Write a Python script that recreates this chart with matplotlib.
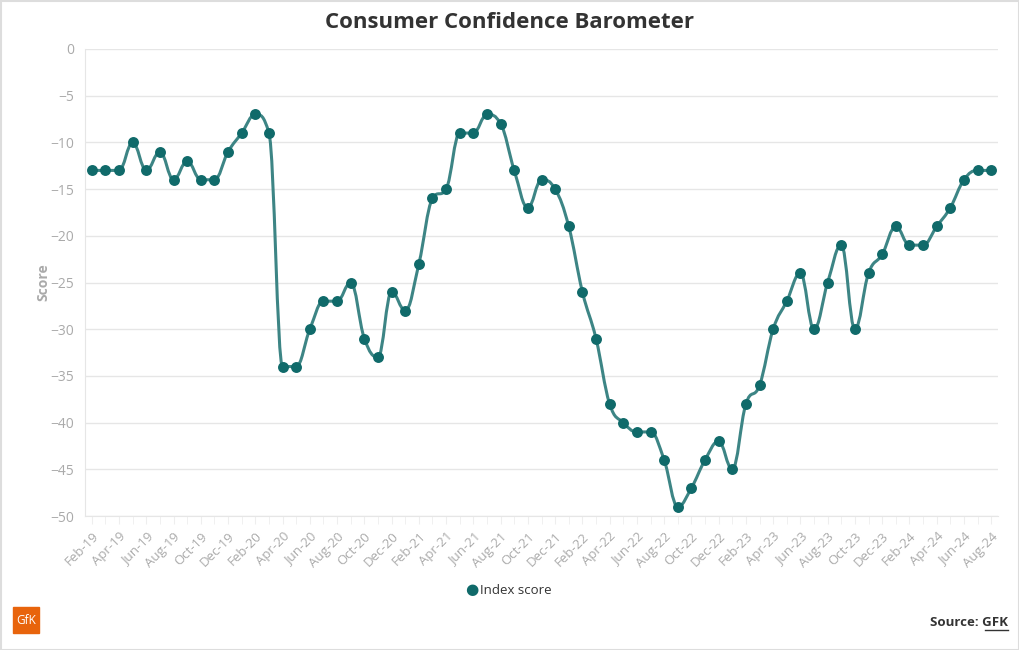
import numpy as np
import matplotlib.pyplot as plt
from matplotlib.path import Path
from matplotlib.patches import PathPatch, Rectangle

months = ['Jan', 'Feb', 'Mar', 'Apr', 'May', 'Jun', 'Jul', 'Aug', 'Sep', 'Oct', 'Nov', 'Dec']
labels = []
for yr in range(19, 25):
    for m in months:
        labels.append(f"{m}-{yr}")
labels = labels[1:labels.index('Aug-24') + 1]

scores = [-13, -13, -13, -10, -13, -11, -14, -12, -14, -14, -11,
          -9, -7, -9, -34, -34, -30, -27, -27, -25, -31, -33, -26,
          -28, -23, -16, -15, -9, -9, -7, -8, -13, -17, -14, -15,
          -19, -26, -31, -38, -40, -41, -41, -44, -49, -47, -44, -42,
          -45, -38, -36, -30, -27, -24, -30, -25, -21, -30, -24, -22,
          -19, -21, -21, -19, -17, -14, -13, -13]

line_col = '#3d8585'
dot_col = '#106a6a'
grey = '#aaaaaa'


def spline_path(xs, ys, smoothing=1.5):
    # highcharts style spline, control points per point
    n = len(xs)
    lc = [None] * n
    rc = [None] * n
    for i in range(1, n - 1):
        x, y = xs[i], ys[i]
        px, py = xs[i - 1], ys[i - 1]
        nx, ny = xs[i + 1], ys[i + 1]
        d = smoothing + 1
        lx = (smoothing * x + px) / d
        ly = (smoothing * y + py) / d
        rx = (smoothing * x + nx) / d
        ry = (smoothing * y + ny) / d
        if rx != lx:
            corr = ((ry - ly) * (rx - x)) / (rx - lx) + y - ry
            ly += corr
            ry += corr
        if ly > py and ly > y:
            ly = max(py, y)
            ry = 2 * y - ly
        elif ly < py and ly < y:
            ly = min(py, y)
            ry = 2 * y - ly
        if ry > ny and ry > y:
            ry = max(ny, y)
            ly = 2 * y - ry
        elif ry < ny and ry < y:
            ry = min(ny, y)
            ly = 2 * y - ry
        lc[i] = (lx, ly)
        rc[i] = (rx, ry)
    verts = [(xs[0], ys[0])]
    codes = [Path.MOVETO]
    for i in range(1, n):
        c1 = rc[i - 1] if rc[i - 1] else (xs[i - 1], ys[i - 1])
        c2 = lc[i] if lc[i] else (xs[i], ys[i])
        verts += [c1, c2, (xs[i], ys[i])]
        codes += [Path.CURVE4] * 3
    return Path(verts, codes)


plt.rcParams['font.family'] = ['Open Sans', 'DejaVu Sans']

fig = plt.figure(figsize=(10.2, 6.5), dpi=100)
ax = fig.add_axes([85 / 1020, 134 / 650, 913 / 1020, 467 / 650])

x = np.arange(len(scores))
ax.add_patch(PathPatch(spline_path(x, scores), fill=False, edgecolor=line_col,
                       lw=2.2, zorder=3, capstyle='round', joinstyle='round'))
ax.scatter(x, scores, s=62, color=dot_col, zorder=4, linewidths=0)

ax.set_xlim(-0.5, len(scores) - 0.5)
ax.set_ylim(-50, 0)
ax.set_yticks(range(-50, 1, 5))
ax.yaxis.grid(True, color='#e6e6e6', lw=1)
ax.set_axisbelow(True)

ax.set_xticks(x[::2])
ax.set_xticklabels(labels[::2], rotation=45, ha='right', rotation_mode='anchor',
                   fontsize=9.5, color=grey)
ax.set_xticks(x, minor=True)
ax.tick_params(axis='x', which='both', length=6, color='#eeeeee', pad=4)
ax.tick_params(axis='y', length=0, labelsize=10, labelcolor=grey, pad=8)

for s in ['top', 'right']:
    ax.spines[s].set_visible(False)
ax.spines['left'].set_color('#e6e6e6')
ax.spines['bottom'].set_color('#e6e6e6')

ax.set_ylabel('Score', fontsize=10, color=grey, fontweight='bold', labelpad=0)

fig.text(0.5, 1 - 23 / 650, 'Consumer Confidence Barometer', ha='center', va='center',
         fontsize=16, fontweight='bold', color='#333333')

# legend
fig.text(472 / 1020, 1 - 590 / 650, '\u25CF', ha='center', va='center', color=dot_col,
         fontsize=11, family='DejaVu Sans')
fig.text(480 / 1020, 1 - 590 / 650, 'Index score', ha='left', va='center',
         color='#333333', fontsize=9.5)

# logo
fig.patches.append(Rectangle((13 / 1020, 1 - 633 / 650), 26 / 1020, 26 / 650,
                             transform=fig.transFigure, color='#e8640c'))
fig.text(26 / 1020, 1 - 620 / 650, 'GfK', ha='center', va='center', color='white',
         fontsize=8.5)

# source
fig.text(1008 / 1020, 1 - 623 / 650, 'Source: GFK', ha='right', va='center',
         color='#333333', fontsize=9.5, fontweight='bold')
fig.add_artist(plt.Line2D([985 / 1020, 1008 / 1020], [1 - 630 / 650, 1 - 630 / 650],
                          color='#333333', lw=1, transform=fig.transFigure))

# frame
fig.patches.append(Rectangle((0.5 / 1020, 0.5 / 650), 1018.5 / 1020, 648.5 / 650,
                             transform=fig.transFigure, fill=False,
                             edgecolor='#dddddd', lw=1.5))

fig.savefig('out.png', dpi=100)
